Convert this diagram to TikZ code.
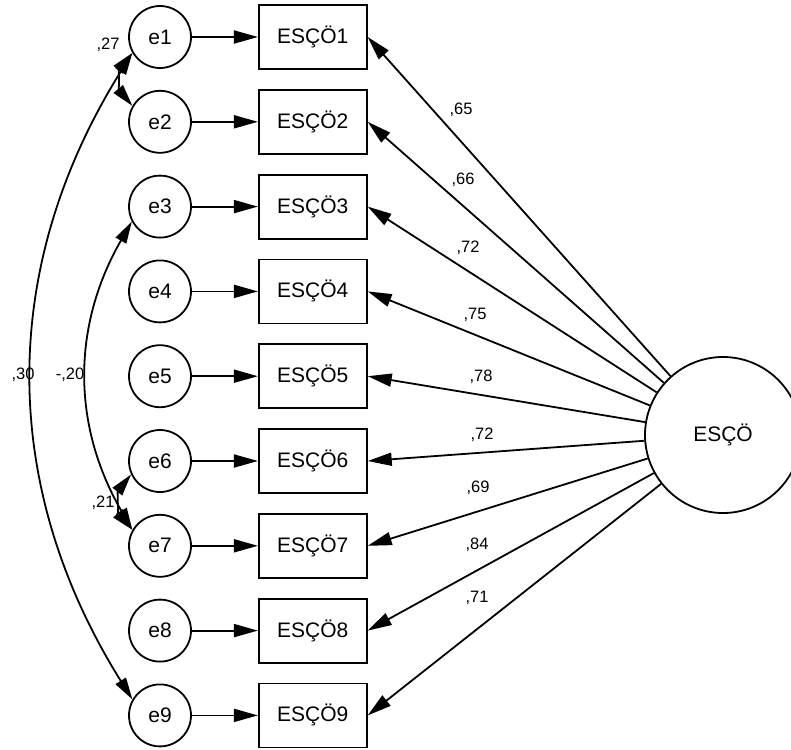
\documentclass[tikz,border=0pt]{standalone}
\usepackage{fontspec}
\setmainfont{Liberation Sans}
\usetikzlibrary{arrows.meta,positioning}

\begin{document}
\begin{tikzpicture}[ -, x = 1pt, y = -1pt, node distance = 21pt and 66pt,
                    auto, line width = 1.8pt,
                    err/.style = {draw, circle, minimum size = 62pt, inner sep = 0pt, font = \fontsize{21}{24}\selectfont},
                    obs/.style = {draw, rectangle, minimum width = 108pt, minimum height = 64pt, inner sep = 0pt, font = \fontsize{21}{24}\selectfont},
                    lat/.style = {draw, circle, minimum size = 156pt, inner sep = 0pt, font = \fontsize{21}{24}\selectfont},
                    coef/.style = {inner sep = 0pt, font = \fontsize{16.5}{18}\selectfont},
                    reg/.style = {-{Triangle[length=24pt,width=13pt]}},
                    cov/.style = {{Triangle[length=22pt,width=12pt]}-{Triangle[length=22pt,width=12pt]}}]
\clip (0,0) rectangle (791,749);
\begin{scope}
    \node[err] (e1) at (160,37) {e1};
\node[err, below= of e1] (e2)  {e2};
\node[err, below= of e2] (e3)  {e3};
\node[err, below= of e3] (e4)  {e4};
\node[err, below= of e4] (e5)  {e5};
\node[err, below= of e5] (e6)  {e6};
\node[err, below= of e6] (e7)  {e7};
\node[err, below= of e7] (e8)  {e8};
\node[err, below= of e8] (e9)  {e9};
\node[obs, right= of e1] (v1)  {ESÇÖ1};
\node[obs, right= of e2] (v2)  {ESÇÖ2};
\node[obs, right= of e3] (v3)  {ESÇÖ3};
\node[obs, right= of e4] (v4)  {ESÇÖ4};
\node[obs, right= of e5] (v5)  {ESÇÖ5};
\node[obs, right= of e6] (v6)  {ESÇÖ6};
\node[obs, right= of e7] (v7)  {ESÇÖ7};
\node[obs, right= of e8] (v8)  {ESÇÖ8};
\node[obs, right= of e9] (v9)  {ESÇÖ9};
\node[lat] (esco) at (723,435) {ESÇÖ};
    \path[reg]
(e1) edge (v1)
(e2) edge (v2)
(e3) edge (v3)
(e4) edge (v4)
(e5) edge (v5)
(e6) edge (v6)
(e7) edge (v7)
(e8) edge (v8)
(e9) edge (v9)
(esco) edge (v1.east)
(esco) edge (v2.east)
(esco) edge (v3.east)
(esco) edge (v4.east)
(esco) edge (v5.east)
(esco) edge (v6.east)
(esco) edge (v7.east)
(esco) edge (v8.east)
(esco) edge (v9.east);
    \path[cov]
(e1.210) edge[bend right=40] (e2.150)
(e1.210) edge[bend right=32] (e9.150)
(e3.208) edge[bend right=30] (e7.150)
(e6.205) edge[bend right=40] (e7.150);
\node[coef] (l1) at (461,110) {,65};
\node[coef] (l2) at (463,180) {,66};
\node[coef] (l3) at (468,248) {,72};
\node[coef] (l4) at (475,315) {,75};
\node[coef] (l5) at (481,377) {,78};
\node[coef] (l6) at (482,435) {,72};
\node[coef] (l7) at (478,488) {,69};
\node[coef] (l8) at (477,545) {,84};
\node[coef] (l9) at (477,598) {,71};
\node[coef] (c12) at (108,45) {,27};
\node[coef] (c19) at (23,375) {,30};
\node[coef] (c37) at (70,375) {-,20};
\node[coef] (c67) at (103,503) {,21};
\end{scope}  \end{tikzpicture}
\end{document}
